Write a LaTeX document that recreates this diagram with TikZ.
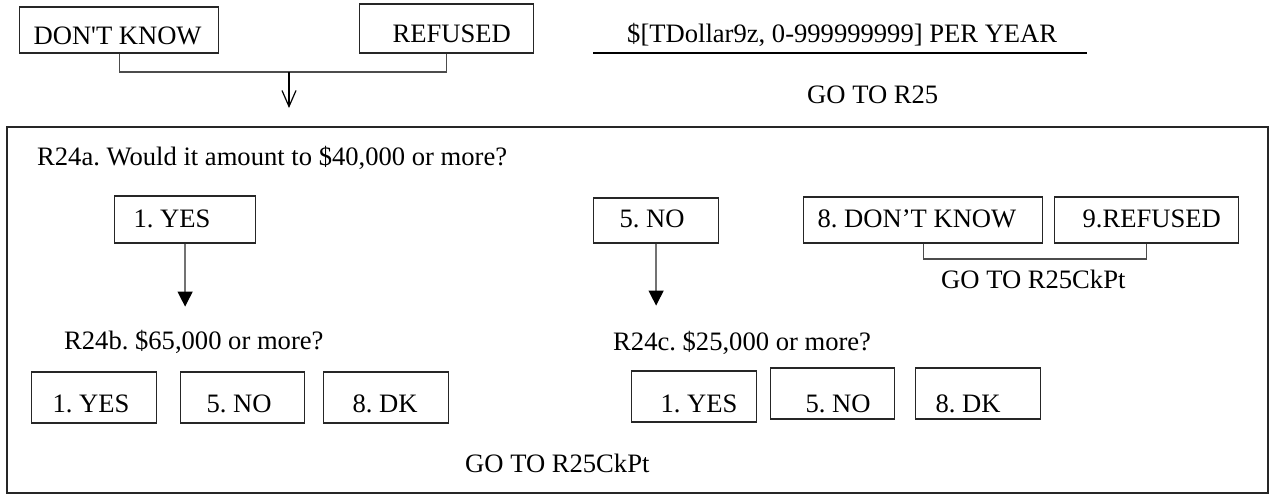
\documentclass[tikz,border=0pt]{standalone}
\usepackage{fontspec}
\setmainfont{Liberation Serif}
\usetikzlibrary{arrows.meta}
\newcommand{\bxt}[3]{\makebox[#1pt][l]{\hspace*{#2pt}#3}}
\begin{document}
\frenchspacing
\begin{tikzpicture}[x=1pt,y=-1pt,
  every node/.style={font=\fontsize{26.6}{30}\selectfont\frenchspacing},
  bx/.style 2 args={draw=black!85, line width=1.2pt, inner sep=0pt, anchor=base west, text height=#1pt, text depth=#2pt},
  txt/.style={inner sep=0pt, anchor=base west},
  lnk/.style={draw=black!70, line width=1.2pt},
  frame/.style={draw=black!85, line width=1.2pt},
  arr/.style={draw=black!55, line width=1.3pt, -{Triangle[length=15pt,width=15pt,color=black]}}]
\fill[white] (0,0) rectangle (1274,494);
\useasboundingbox (0,0) rectangle (1274,494);

% top row
\node[bx={38}{8}] (dk) at (19,45) {\bxt{199}{14}{DON\textquotesingle T KNOW}};
\node[bx={39}{10}] (rf) at (359,43) {\bxt{174}{33}{REFUSED}};
\coordinate (brk) at (289,72);
\coordinate (tip) at (289,108);
\draw[lnk] (dk.south) |- (brk) -| (rf.south);
\draw[black, line width=1.2pt, -{Straight Barb[length=16pt,width=14pt]}] (brk) -- (tip);

\node[txt] (amt) at (627,43) {\$[TDollar9z, 0-999999999] PER YEAR};
\coordinate (ulA) at (593,53);
\coordinate (ulB) at (1087,53);
\draw[line width=1.2pt] (ulA) -- (ulB);
\node[txt] (go1) at (807,104) {GO TO R25};

% frame
\draw[frame] (7,127) rectangle (1268,493);

\node[txt] (q24a) at (37,166) {R24a. Would it amount to \$40,000 or more?};
\node[bx={32}{15}] (yes) at (114,228) {\bxt{141}{19}{1. YES}};
\node[bx={30}{15}] (no) at (593,228) {\bxt{125}{26}{5. NO}};
\node[bx={31}{15}] (dk2) at (803,228) {\bxt{239}{14}{8. DON’T KNOW}};
\node[bx={31}{15}] (rf2) at (1054,228) {\bxt{184}{28}{9.REFUSED}};
\coordinate (brk2) at (1034,259);
\draw[lnk] (dk2.south) |- (brk2) -| (rf2.south);
\node[txt] (go2) at (941,289) {GO TO R25CkPt};

\path (yes.south) ++(0,63) coordinate (yesTip);
\draw[arr] (yes.south) -- (yesTip);
\path (no.south) ++(0,62) coordinate (noTip);
\draw[arr] (no.south) -- (noTip);

\node[txt] (q24b) at (64,349) {R24b. \$65,000 or more?};
\node[txt] (q24c) at (613,350) {R24c. \$25,000 or more?};

\node[bx={40}{11}] (b1) at (31,412) {\bxt{125}{21}{1. YES}};
\node[bx={40}{11}] (b5) at (180,412) {\bxt{124}{26}{5. NO}};
\node[bx={40}{11}] (b8) at (323,412) {\bxt{125}{29}{8. DK}};

\node[bx={41}{10}] (c1) at (631,412) {\bxt{125}{29}{1. YES}};
\node[bx={44}{7}] (c5) at (770,412) {\bxt{124}{35}{5. NO}};
\node[bx={44}{7}] (c8) at (915,412) {\bxt{125}{20}{8. DK}};

\node[txt] (go3) at (465,472) {GO TO R25CkPt};
\end{tikzpicture}
\end{document}
